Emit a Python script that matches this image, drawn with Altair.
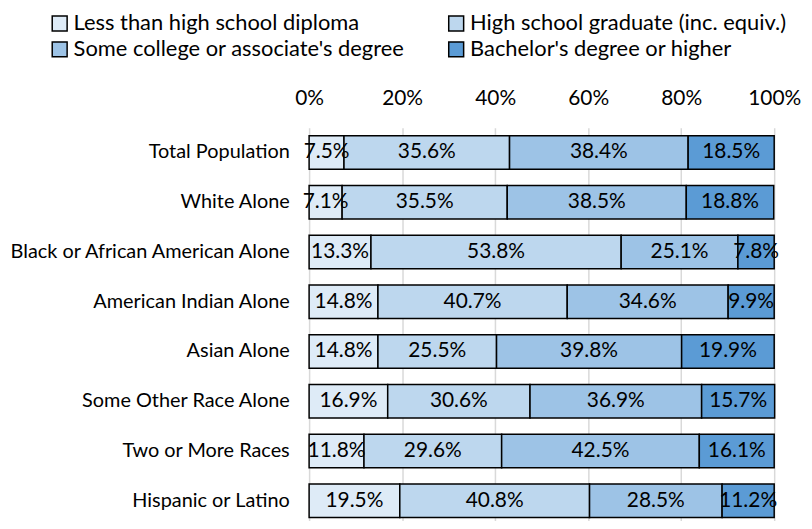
import altair as alt
import pandas as pd

categories = ["Total Population", "White Alone", "Black or African American Alone",
              "American Indian Alone", "Asian Alone", "Some Other Race Alone",
              "Two or More Races", "Hispanic or Latino"]
levels = ["Less than high school diploma", "High school graduate (inc. equiv.)",
          "Some college or associate's degree", "Bachelor's degree or higher"]
less_than_hs = [7.5, 7.1, 13.3, 14.8, 14.8, 16.9, 11.8, 19.5]
hs_grad = [35.6, 35.5, 53.8, 40.7, 25.5, 30.6, 29.6, 40.8]
some_college = [38.4, 38.5, 25.1, 34.6, 39.8, 36.9, 42.5, 28.5]
bachelors = [18.5, 18.8, 7.8, 9.9, 19.9, 15.7, 16.1, 11.2]
colors = ["#DEEBF7", "#BDD7EE", "#9DC3E6", "#5B9BD5"]
x_ticks = [0, 20, 40, 60, 80, 100]

series = [less_than_hs, hs_grad, some_college, bachelors]
rows = []
for ci, cat in enumerate(categories):
    start = 0.0
    for li, lev in enumerate(levels):
        v = series[li][ci]
        rows.append({"category": cat, "level": lev, "order": li, "value": v,
                     "start": start, "end": start + v, "mid": start + v / 2,
                     "label": f"{v:.1f}%"})
        start += v
df = pd.DataFrame(rows)

FONT = "Lato"

y_enc = alt.Y("category:N", sort=categories, title=None,
              scale=alt.Scale(paddingInner=0.33, paddingOuter=0.16, range=[0, 400]),
              axis=alt.Axis(labelFontSize=20, labelColor="#000000", labelFont=FONT,
                            labelLimit=400, ticks=False, domain=False, labelPadding=20,
                            grid=False))

bars = alt.Chart(df).mark_bar(stroke="#000000", strokeWidth=1.5).encode(
    x=alt.X("start:Q", title=None,
            scale=alt.Scale(domain=[0, 100], nice=False),
            axis=alt.Axis(orient="top", values=x_ticks, labelExpr="datum.value + '%'",
                          labelFontSize=21, labelFont=FONT, labelColor="#000000",
                          labelFlush=False, labelOverlap=False,
                          ticks=False, domain=False, labelPadding=20,
                          grid=True, gridColor="#D9D9D9", gridWidth=1.5)),
    x2="end:Q",
    y=y_enc,
    color=alt.Color("level:N", sort=levels,
                    scale=alt.Scale(domain=levels, range=colors),
                    legend=alt.Legend(title=None, orient="none", legendX=-262, legendY=-116,
                                      columns=2, direction="horizontal",
                                      symbolType="square", symbolSize=225,
                                      symbolStrokeColor="#000000", symbolStrokeWidth=1.5,
                                      labelFontSize=22, labelFont=FONT, labelColor="#000000",
                                      labelLimit=500, columnPadding=41, rowPadding=4,
                                      labelOffset=3)),
    order=alt.Order("order:Q"),
)

texts = alt.Chart(df).mark_text(fontSize=21, font=FONT, color="#000000").encode(
    x="mid:Q",
    y=alt.Y("category:N", sort=categories),
    text="label:N",
)

chart = (bars + texts).properties(
    width=468, height=392,
    autosize=alt.AutoSizeParams(type="none"),
    padding={"left": 303, "top": 119, "right": 30, "bottom": 2},
).configure_view(stroke=None)

chart.save("out.html", embed_options={"renderer": "svg", "actions": False})
